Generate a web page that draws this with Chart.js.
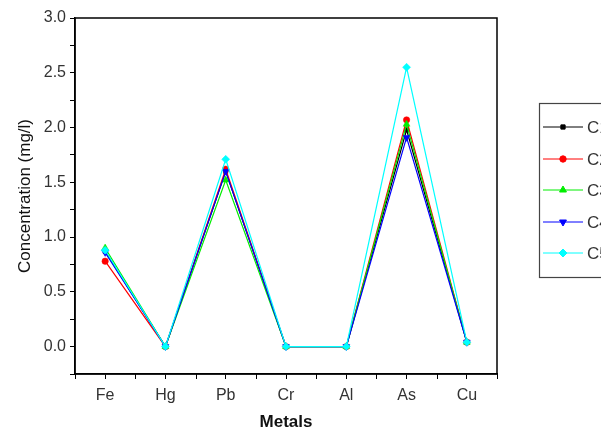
<!DOCTYPE html>
<html>
<head>
<meta charset="utf-8">
<script src="https://cdn.jsdelivr.net/npm/chart.js@4"></script>
<style>
  html, body { margin: 0; padding: 0; background: #fff; overflow: hidden; }
  #wrap { width: 601px; height: 436px; }
</style>
</head>
<body>
<div id="wrap"><canvas id="myChart" width="601" height="436"></canvas></div>
<script>
var metals = ["Fe", "Hg", "Pb", "Cr", "Al", "As", "Cu"];
var seriesNames = ["C1", "C2", "C3", "C4", "C5"];
var c1 = [0.87, 0, 1.60, 0, 0, 1.98, 0.04];
var c2 = [0.78, 0, 1.62, 0, 0, 2.07, 0.04];
var c3 = [0.90, 0, 1.52, 0, 0, 2.03, 0.04];
var c4 = [0.86, 0, 1.60, 0, 0, 1.91, 0.04];
var c5 = [0.88, 0, 1.71, 0, 0, 2.55, 0.04];
var colors = ["#000000", "#ff0000", "#00ee00", "#0000ff", "#00ffff"];
var shapes = ["rect", "circle", "triangle", "triangle", "rectRot"];
var rotations = [0, 0, 0, 180, 0];
var sizes = [3, 3.2, 4, 4, 4];

function makeSet(i, values) {
  return {
    label: seriesNames[i],
    data: values,
    order: 4 - i,
    borderColor: colors[i],
    backgroundColor: colors[i],
    borderWidth: 1.2,
    pointStyle: shapes[i],
    pointRotation: rotations[i],
    pointRadius: sizes[i],
    pointBorderWidth: 0.5,
    tension: 0
  };
}

// frame, minor x ticks and the line+marker legend
var extras = {
  id: "extras",
  afterDraw: function(chart) {
    var ctx = chart.ctx;
    var a = chart.chartArea;
    var x = chart.scales.x;
    ctx.save();
    ctx.strokeStyle = "#000";
    ctx.lineWidth = 1.5;
    ctx.strokeRect(a.left, a.top, a.right - a.left, a.bottom - a.top);
    var half = (x.getPixelForValue(1) - x.getPixelForValue(0)) / 2;
    ctx.lineWidth = 1;
    for (var i = 0; i <= metals.length; i++) {
      var px = Math.round(x.getPixelForValue(i) - half) + 0.5;
      ctx.beginPath();
      ctx.moveTo(px, a.bottom);
      ctx.lineTo(px, a.bottom + 5);
      ctx.stroke();
    }
    // legend
    ctx.strokeStyle = "#444";
    ctx.lineWidth = 1.2;
    ctx.strokeRect(539.5, 103.5, 90, 174);
    var ys = [127, 159, 190, 222, 253];
    ctx.font = "17px 'Liberation Sans', Arial, sans-serif";
    ctx.textBaseline = "middle";
    seriesNames.forEach(function(name, i) {
      ctx.strokeStyle = colors[i];
      ctx.lineWidth = 1;
      ctx.beginPath();
      ctx.moveTo(543, ys[i]);
      ctx.lineTo(583, ys[i]);
      ctx.stroke();
      ctx.fillStyle = colors[i];
      ctx.strokeStyle = colors[i];
      Chart.helpers.drawPoint(ctx, {pointStyle: shapes[i], radius: sizes[i], rotation: rotations[i], borderWidth: 0.5}, 563, ys[i]);
      ctx.fillStyle = "#333";
      ctx.fillText(name, 587, ys[i] + 1);
    });
    ctx.restore();
  }
};

function init() {
  var ctx = document.getElementById("myChart").getContext("2d");
  new Chart(ctx, {
    type: "line",
    data: {
      labels: metals,
      datasets: [makeSet(0, c1), makeSet(1, c2), makeSet(2, c3), makeSet(3, c4), makeSet(4, c5)]
    },
    plugins: [extras],
    options: {
      responsive: false,
      animation: false,
      layout: { padding: { top: 18, right: 104, left: 0, bottom: 0 } },
      plugins: { legend: { display: false }, tooltip: { enabled: false } },
      scales: {
        x: {
          offset: true,
          afterFit: function(s) { s.height = 62; },
          grid: { offset: false, drawOnChartArea: false, drawTicks: true, tickLength: 5, color: "#000" },
          border: { display: true, color: "#000", width: 1.5 },
          ticks: { color: "#333", padding: 7, font: { family: "'Liberation Sans', Arial", size: 16 } },
          title: {
            display: true, text: "Metals", color: "#111",
            padding: { top: 0, bottom: 3 },
            font: { family: "'Liberation Sans', Arial", size: 17, weight: "bold" }
          }
        },
        y: {
          min: -0.25,
          max: 3.0,
          afterFit: function(s) { s.width = 75; },
          afterBuildTicks: function(s) {
            var t = [];
            for (var v = -0.25; v <= 3.001; v += 0.25) t.push({ value: Math.round(v * 100) / 100 });
            s.ticks = t;
          },
          grid: { drawOnChartArea: false, drawTicks: true, tickLength: 5, color: "#000" },
          border: { display: true, color: "#000", width: 1.5 },
          ticks: {
            color: "#333", padding: 4, autoSkip: false,
            font: { family: "'Liberation Sans', Arial", size: 16 },
            callback: function(v) {
              if (v < 0) return "";
              return Math.abs(v * 2 - Math.round(v * 2)) < 1e-6 ? v.toFixed(1) : "";
            }
          },
          title: {
            display: true, text: "Concentration (mg/l)", color: "#111",
            padding: { top: 15, bottom: 0 },
            font: { family: "'Liberation Sans', Arial", size: 17 }
          }
        }
      }
    }
  });
}

init();
</script>
</body>
</html>
